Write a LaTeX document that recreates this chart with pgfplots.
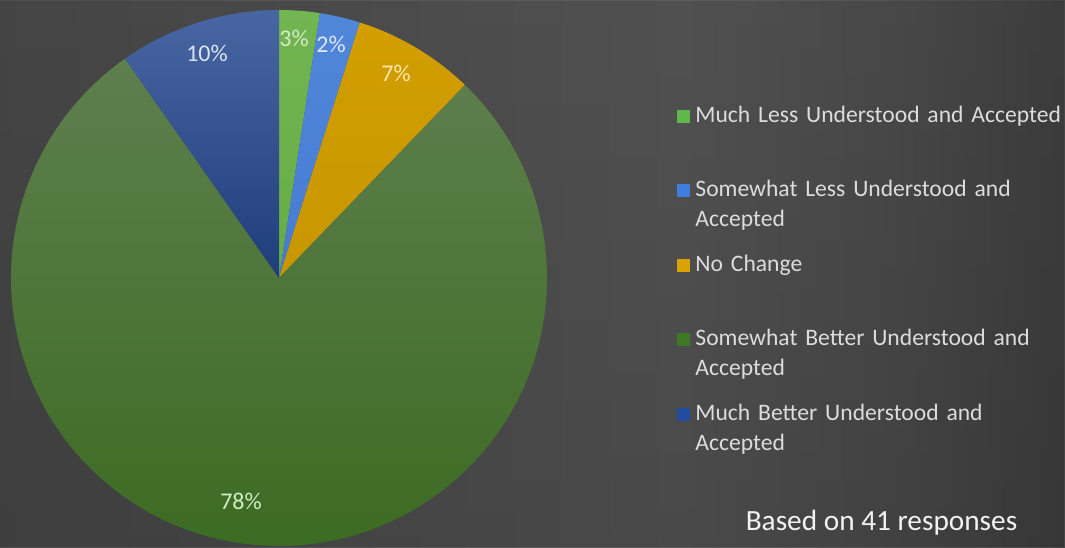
\documentclass[border=0pt]{standalone}
\usepackage{pgfplots}
\pgfplotsset{compat=1.18}
\usepackage{pgfplotstable}
\usetikzlibrary{fadings}
\usepackage{fontspec}
\setmainfont{Carlito}

\definecolor{top0}{HTML}{72B552}\definecolor{bot0}{HTML}{66AD46}
\definecolor{top1}{HTML}{5187DA}\definecolor{bot1}{HTML}{467BD2}
\definecolor{top2}{HTML}{D29E00}\definecolor{bot2}{HTML}{C89600}
\definecolor{top3}{HTML}{5E7F4E}\definecolor{bot3}{HTML}{3A6A20}
\definecolor{top4}{HTML}{4866A2}\definecolor{bot4}{HTML}{1E3D7B}
\definecolor{lab0}{HTML}{D2EBC4}\definecolor{lab1}{HTML}{DCE6F6}
\definecolor{lab2}{HTML}{FBE7A8}\definecolor{lab3}{HTML}{D4EBC4}
\definecolor{lab4}{HTML}{DCE3F0}
\definecolor{leg0}{HTML}{5FB84A}\definecolor{leg1}{HTML}{3F7DDF}
\definecolor{leg2}{HTML}{D8A200}\definecolor{leg3}{HTML}{3B7A22}
\definecolor{leg4}{HTML}{244C9E}
\definecolor{legtext}{HTML}{DCDCDC}
\definecolor{bgA}{HTML}{464646}\definecolor{bgB}{HTML}{505050}
\definecolor{bgC}{HTML}{5C5C5C}\definecolor{bgD}{HTML}{525252}
\definecolor{bgE}{HTML}{3C3C3C}\definecolor{bgF}{HTML}{2E2E2E}
\pgfdeclarehorizontalshading{bgshade}{100bp}{color(0bp)=(bgA); color(30bp)=(bgB); color(57bp)=(bgC); color(67bp)=(bgD); color(80bp)=(bgE); color(100bp)=(bgF)}
\tikzfading[name=vvig, top color=transparent!88, middle color=transparent!100, bottom color=transparent!80]

% share (percent of 41 responses), label, label position (axis units, centre of pie at 0,0)
\pgfplotstableread{
value label lx ly
2.44  3  15  231
2.44  2  52  225
7.32  7  117 196
78.05 78 -38 -231
9.76  10 -72 216
}\piedata

\begin{document}
\begin{tikzpicture}
\shade[shading=bgshade] (0pt,0pt) rectangle (1065pt,547pt);
\fill[black, path fading=vvig] (0pt,0pt) rectangle (1065pt,547pt);
\begin{axis}[
  at={(0pt,0pt)}, anchor=south west,
  x=1pt, y=1pt,
  xmin=-279, xmax=786, ymin=-269, ymax=278,
  hide axis, clip=false,
  legend cell align=left,
  legend style={at={(0.6357,0.8080)}, anchor=north west, draw=none, fill=none,
    inner sep=0pt, outer sep=0pt, row sep=0pt, column sep=6pt,
    nodes={anchor=base west, inner sep=0pt, text width=400pt, align=left,
      text height=17pt, text depth=57.5pt,
      font=\fontsize{23.6}{30}\selectfont, text=legtext}},
]
\def\astart{90}
\pgfplotsforeachungrouped \i in {0,...,4}{%
  \pgfplotstablegetelem{\i}{value}\of\piedata \let\v=\pgfplotsretval
  \pgfplotstablegetelem{\i}{label}\of\piedata \let\lab=\pgfplotsretval
  \pgfplotstablegetelem{\i}{lx}\of\piedata \let\lx=\pgfplotsretval
  \pgfplotstablegetelem{\i}{ly}\of\piedata \let\ly=\pgfplotsretval
  \pgfmathsetmacro\aend{\astart-3.6*\v}
  \pgfmathsetmacro\xs{268*cos(\astart)}
  \pgfmathsetmacro\ys{268*sin(\astart)}
  \edef\temp{\noexpand\shade[top color=top\i, bottom color=bot\i]
    (axis cs:0,0) -- (axis cs:\xs,\ys) arc[start angle=\astart, end angle=\aend, radius=268pt] -- cycle;
    \noexpand\node[anchor=base, text=lab\i, font=\noexpand\fontsize{24}{28}\noexpand\selectfont, inner sep=0pt]
    at (axis cs:\lx,\ly) {\lab\noexpand\%};}%
  \temp
  \let\astart=\aend
}
\addlegendimage{legend image code/.code={\fill[leg0] (0pt,0pt) rectangle (12pt,12pt);}}
\addlegendentry{Much Less Understood and Accepted}
\addlegendimage{legend image code/.code={\fill[leg1] (0pt,0pt) rectangle (12pt,12pt);}}
\addlegendentry{Somewhat Less Understood and\\Accepted}
\addlegendimage{legend image code/.code={\fill[leg2] (0pt,0pt) rectangle (12pt,12pt);}}
\addlegendentry{No Change}
\addlegendimage{legend image code/.code={\fill[leg3] (0pt,0pt) rectangle (12pt,12pt);}}
\addlegendentry{Somewhat Better Understood and\\Accepted}
\addlegendimage{legend image code/.code={\fill[leg4] (0pt,0pt) rectangle (12pt,12pt);}}
\addlegendentry{Much Better Understood and\\Accepted}
\node[anchor=base, text=white!95!black, font=\fontsize{29.3}{34}\selectfont, inner sep=0pt]
  at (axis cs:602.5,-252) {Based on 41 responses};
\end{axis}
\pgfresetboundingbox
\path[use as bounding box] (0pt,0pt) rectangle (1065pt,547pt);
\end{tikzpicture}
\end{document}
